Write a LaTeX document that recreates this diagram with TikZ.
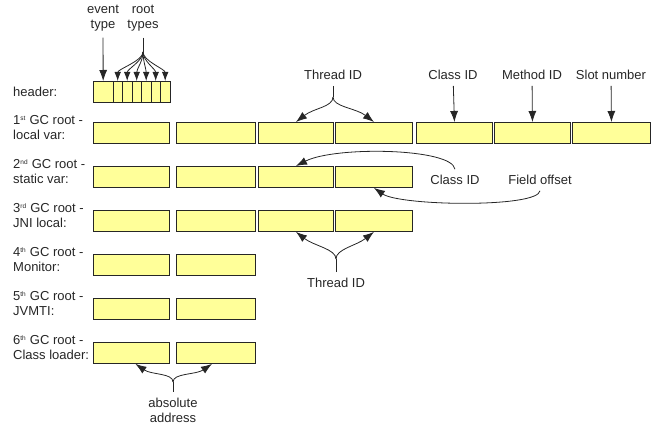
\documentclass[tikz,border=0pt]{standalone}
\usepackage{fontspec}
\setmainfont{Liberation Sans}
\usepackage{tikz}
\usetikzlibrary{arrows.meta}
\tikzset{>={Latex[length=11pt,width=8pt]}}
\usepackage{xcolor}
\definecolor{fieldfill}{RGB}{255,255,153}
\colorlet{ink}{black!85}
\tikzstyle{field}=[draw=ink,fill=fieldfill,line width=0.9pt,minimum height=21pt,inner sep=0pt,anchor=north west]
\tikzstyle{lbl}=[align=left,anchor=west,inner sep=0pt,text=ink,font=\fontsize{13}{15}\selectfont]
\tikzstyle{txt}=[align=center,inner sep=0pt,outer sep=6pt,text=ink,font=\fontsize{13}{15}\selectfont]
\tikzstyle{ptr}=[->,draw=ink,line width=0.8pt]
\tikzstyle{stem}=[draw=ink,line width=0.8pt]
\def\H{21}
\def\ord#1{\textsuperscript{\fontsize{6.5}{7}\selectfont #1}}

\begin{document}
\begin{tikzpicture}[x=1pt,y=-1pt]
  \useasboundingbox (0,0) rectangle (656,425);

  % HEADER
  \node[lbl] (lhd) at (13,92) {header:};
  \node[field,minimum width=19.5pt] (h0) at (93,81) {};
  \foreach \i in {1,...,6}{
    \node[field,minimum width=9.5pt] (h\i) at (103+9.5*\i,81) {};
  }

  % ROWS (row/top/number of fields)
  \foreach \r/\y/\n in {1/122/7, 2/166/4, 3/210/4,
                        4/254/2, 5/298/2, 6/342/2}{
    \foreach \c/\x/\w in {1/93/76, 2/176/79, 3/258/75, 4/335/77,
                          5/416/76, 6/494/76, 7/572/78}{
      \ifnum\c>\n\else
        \node[field,minimum width=\w pt] (b\r-\c) at (\x,\y) {};
      \fi
    }
  }

  % ROW LABELS
  \node[lbl] (l1) at (13,128) {1\ord{st} GC root -\\local var:};
  \node[lbl] (l2) at (13,172) {2\ord{nd} GC root -\\static var:};
  \node[lbl] (l3) at (13,216) {3\ord{rd} GC root -\\JNI local:};
  \node[lbl] (l4) at (13,260) {4\ord{th} GC root -\\Monitor:};
  \node[lbl] (l5) at (13,304) {5\ord{th} GC root -\\JVMTI:};
  \node[lbl] (l6) at (13,348) {6\ord{th} GC root -\\Class loader:};

  % TEXTS
  \node[txt] (evt)  at (103,18.5) {event\\type};
  \node[txt] (rts)  at (143,18.5) {root\\types};
  \node[txt] (tid)  at (333,75)   {Thread ID};
  \node[txt] (cls)  at (453,75)   {Class ID};
  \node[txt] (mid)  at (532,75)   {Method ID};
  \node[txt] (slot) at (611,75)   {Slot number};
  \node[txt] (scls) at (455,180)  {Class ID};
  \node[txt] (foff) at (540,180)  {Field offset};
  \node[txt] (jtid) at (336,283)  {Thread ID};
  \node[txt] (addr) at (173,410)  {absolute\\address};

  \coordinate (fan)   at (143,52);  % ROOT TYPES
  \coordinate (tidb)  at (333,97);  % THREAD ID (TOP)
  \coordinate (jtidb) at (336,259); % THREAD ID (BOTTOM)
  \coordinate (addrb) at (173,382); % ADDRESS

  % HEADER ARROWS
  \draw[ptr] (evt) -- (h0);
  \draw[stem] (rts) -- (fan);
  \foreach \i in {1,...,6}{
    \draw[ptr,>={Latex[length=9pt,width=6.5pt]}] (fan) .. controls +(0,9) and +(0,-12) .. (h\i.north);
  }

  % FIRST ROW
  \draw[stem] (tid) -- (tidb);
  \draw[ptr] (tidb) .. controls +(0,10) and +(18,-14) .. (b1-3.north);
  \draw[ptr] (tidb) .. controls +(0,10) and +(-18,-14) .. (b1-4.north);
  \draw[ptr] (cls)  -- (b1-5.north);
  \draw[ptr] (mid)  -- (b1-6.north);
  \draw[ptr] (slot) -- (b1-7.north);

  % SECOND ROW
  \draw[ptr] (scls.north) .. controls (452,148) and (335,146) .. (b2-3.north);
  \draw[ptr] (foff.south) .. controls (538,208) and (400,206) .. (b2-4.south);

  % THIRD ROW
  \draw[stem] (jtid) -- (jtidb);
  \draw[ptr] (jtidb) .. controls +(0,-10) and +(18,14) .. (b3-3.south);
  \draw[ptr] (jtidb) .. controls +(0,-10) and +(-18,14) .. (b3-4.south);

  % SIXTH ROW
  \draw[stem] (addr) -- (addrb);
  \draw[ptr] (addrb) .. controls +(0,-9) and +(16,11) .. ([xshift=4pt]b6-1.south);
  \draw[ptr] (addrb) .. controls +(0,-9) and +(-16,11) .. ([xshift=-4pt]b6-2.south);

\end{tikzpicture}
\end{document}
